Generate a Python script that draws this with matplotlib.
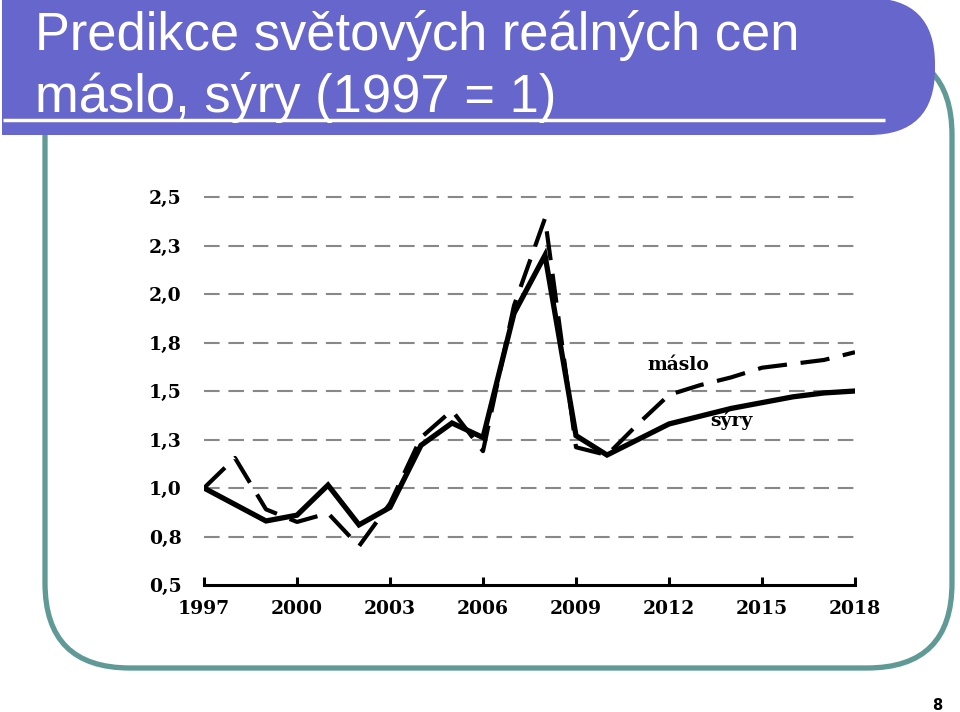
import matplotlib
matplotlib.use("Agg")
import matplotlib.pyplot as plt
from matplotlib.patches import FancyBboxPatch

# ---- data ----
years = list(range(1997, 2019))
syry = [1.00, 0.915, 0.83, 0.86, 1.015, 0.81, 0.90, 1.22, 1.335, 1.26, 1.90,
        2.20, 1.27, 1.17, 1.25, 1.33, 1.37, 1.41, 1.44, 1.47, 1.49, 1.50]
maslo = [1.00, 1.155, 0.89, 0.825, 0.87, 0.70, 0.92, 1.26, 1.40, 1.19, 1.94,
         2.39, 1.21, 1.17, 1.33, 1.48, 1.53, 1.57, 1.62, 1.64, 1.66, 1.70]
ytick_vals = [0.5, 0.75, 1.0, 1.25, 1.5, 1.75, 2.0, 2.25, 2.5]
ytick_labels = ["0,5", "0,8", "1,0", "1,3", "1,5", "1,8", "2,0", "2,3", "2,5"]
xtick_vals = [1997, 2000, 2003, 2006, 2009, 2012, 2015, 2018]

W, H = 960, 712
fig = plt.figure(figsize=(W / 100, H / 100), dpi=100)

# ---- slide decoration (pixel coords) ----
bg = fig.add_axes([0, 0, 1, 1])
bg.set_xlim(0, W)
bg.set_ylim(H, 0)
bg.axis("off")

teal = "#5f9a97"
frame = FancyBboxPatch((45, 50), 907, 618, boxstyle="round,pad=0,rounding_size=85",
                       fill=False, edgecolor=teal, linewidth=3.8)
bg.add_patch(frame)

banner = FancyBboxPatch((2, -2), 933, 137, boxstyle="round,pad=0,rounding_size=66",
                        facecolor="#6666cc", edgecolor="none")
bg.add_patch(banner)
bg.add_patch(FancyBboxPatch((2, -2), 300, 137, boxstyle="square,pad=0",
                            facecolor="#6666cc", edgecolor="none"))
bg.plot([3, 885], [120, 120], color="white", linewidth=2.5, solid_capstyle="butt")

bg.text(35, 50, "Predikce světových reálných cen", color="white",
        family="Liberation Sans", fontsize=37.8, va="baseline", ha="left")
bg.text(35, 112, "máslo, sýry (1997 = 1)", color="white",
        family="Liberation Sans", fontsize=37.8, va="baseline", ha="left")

bg.text(937, 705, "8", family="DejaVu Sans", fontweight="bold", fontsize=10.5,
        ha="center", va="center")

# ---- chart ----
ax = fig.add_axes([204 / W, (H - 585) / H, (855 - 204) / W, (585 - 197) / H])
ax.patch.set_alpha(0)
ax.set_xlim(1997, 2018)
ax.set_ylim(0.5, 2.5)

for v in ytick_vals[1:]:
    ax.axhline(v, color="#888888", linewidth=1.5, dashes=(7.5, 4.2), zorder=1,
               clip_on=False)

ax.plot(years, maslo, color="black", linewidth=3, dashes=(7, 3.3), zorder=3,
        solid_joinstyle="miter")
ax.plot(years, syry, color="black", linewidth=3.8, zorder=4,
        solid_joinstyle="miter")

for s in ["top", "right", "left"]:
    ax.spines[s].set_visible(False)
ax.spines["bottom"].set_linewidth(2.2)

tick_font = {"family": "DejaVu Serif", "weight": "bold", "size": 13.5}
ax.set_yticks(ytick_vals)
ax.set_yticklabels(ytick_labels, fontdict=tick_font)
ax.tick_params(axis="y", length=0, pad=16)
ax.set_xticks(xtick_vals)
ax.set_xticklabels([str(x) for x in xtick_vals], fontdict=tick_font)
ax.tick_params(axis="x", direction="in", length=6, width=2.2, pad=11)

ax.text(2012.3, 1.634, "máslo", fontdict=tick_font, ha="center", va="center")
ax.text(2014.03, 1.35, "sýry", fontdict=tick_font, ha="center", va="center")

fig.savefig("out.png", dpi=100)
